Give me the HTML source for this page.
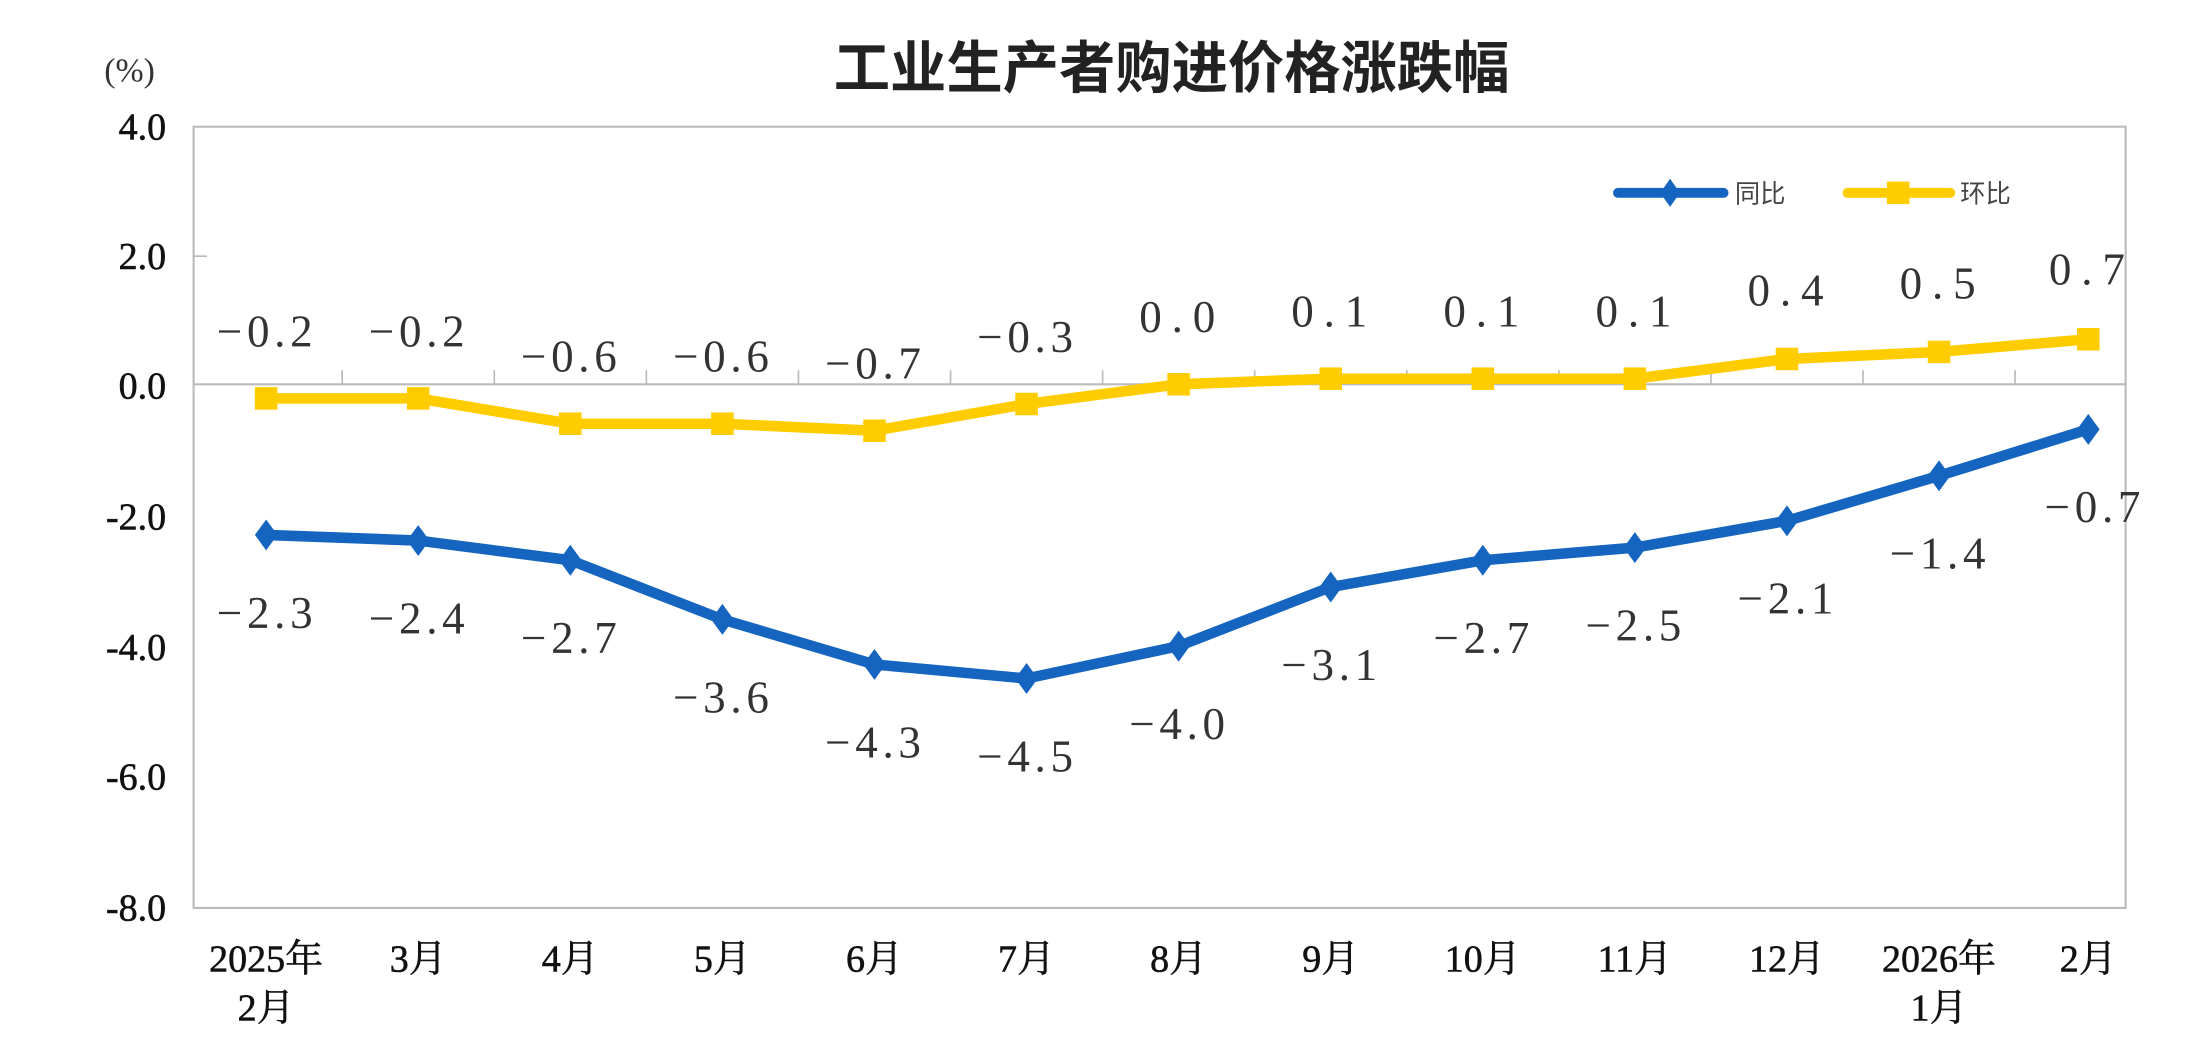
<!DOCTYPE html>
<html><head><meta charset="utf-8"><style>
html,body{margin:0;padding:0;background:#fff;}
svg{display:block;}
</style></head><body>
<svg width="2208" height="1060" viewBox="0 0 1568 753" preserveAspectRatio="none" xmlns="http://www.w3.org/2000/svg">
<rect width="1568" height="753" fill="#fff"/>
<text x="832" y="62" text-anchor="middle" font-family="'Noto Sans CJK SC',sans-serif" font-weight="bold" font-size="40" fill="#222">工业生产者购进价格涨跌幅</text>
<text x="92" y="58" text-anchor="middle" font-family="'Liberation Serif',serif" font-size="24" fill="#333">(%)</text>
<rect x="137.5" y="90" width="1372" height="555" fill="none" stroke="#bbb" stroke-width="1.5"/>
<line x1="137" y1="273" x2="1510" y2="273" stroke="#bbb" stroke-width="1.5"/>
<line x1="137" y1="182" x2="147" y2="182" stroke="#bbb" stroke-width="1.2"/>
<g stroke="#bbb" stroke-width="1.2">
<line x1="243" y1="273" x2="243" y2="263"/><line x1="351" y1="273" x2="351" y2="263"/><line x1="459" y1="273" x2="459" y2="263"/><line x1="567" y1="273" x2="567" y2="263"/><line x1="675" y1="273" x2="675" y2="263"/><line x1="783" y1="273" x2="783" y2="263"/><line x1="891" y1="273" x2="891" y2="263"/><line x1="999" y1="273" x2="999" y2="263"/><line x1="1107" y1="273" x2="1107" y2="263"/><line x1="1215" y1="273" x2="1215" y2="263"/><line x1="1323" y1="273" x2="1323" y2="263"/><line x1="1431" y1="273" x2="1431" y2="263"/>
</g>
<g font-family="'Liberation Serif',serif" font-size="27" fill="#111" text-anchor="end" stroke="#111" stroke-width="0.4">
<text x="118" y="99">4.0</text><text x="118" y="191">2.0</text><text x="118" y="283">0.0</text><text x="118" y="376">-2.0</text><text x="118" y="469">-4.0</text><text x="118" y="561">-6.0</text><text x="118" y="654">-8.0</text>
</g>
<g font-family="'Liberation Serif','Noto Serif CJK SC',serif" font-size="27" fill="#111" text-anchor="middle" stroke="#111" stroke-width="0.4">
<text x="189" y="690">2025年</text><text x="189" y="725">2月</text>
<text x="297" y="690">3月</text><text x="405" y="690">4月</text><text x="513" y="690">5月</text><text x="621" y="690">6月</text><text x="729" y="690">7月</text><text x="837" y="690">8月</text><text x="945" y="690">9月</text><text x="1053" y="690">10月</text><text x="1161" y="690">11月</text><text x="1269" y="690">12月</text>
<text x="1377" y="690">2026年</text><text x="1377" y="725">1月</text><text x="1483" y="690">2月</text>
</g>
<!-- yellow -->
<polyline fill="none" stroke="#ffcc00" stroke-width="7.5" stroke-linejoin="round" points="189,283 297,283 405,301 513,301 621,306 729,287 837,273 945,269 1053,269 1161,269 1269,255 1377,250 1483,241"/>
<g fill="#ffcc00">
<rect x="181" y="275" width="16" height="16"/><rect x="289" y="275" width="16" height="16"/><rect x="397" y="293" width="16" height="16"/><rect x="505" y="293" width="16" height="16"/><rect x="613" y="298" width="16" height="16"/><rect x="721" y="279" width="16" height="16"/><rect x="829" y="265" width="16" height="16"/><rect x="937" y="261" width="16" height="16"/><rect x="1045" y="261" width="16" height="16"/><rect x="1153" y="261" width="16" height="16"/><rect x="1261" y="247" width="16" height="16"/><rect x="1369" y="242" width="16" height="16"/><rect x="1475" y="233" width="16" height="16"/>
</g>
<!-- blue -->
<polyline fill="none" stroke="#1565c0" stroke-width="7.5" stroke-linejoin="round" points="189,380 297,384 405,398 513,440 621,472 729,482 837,459 945,417 1053,398 1161,389 1269,370 1377,338 1483,305"/>
<g fill="#1565c0">
<path d="M189,369l8,11l-8,11l-8,-11z"/><path d="M297,373l8,11l-8,11l-8,-11z"/><path d="M405,387l8,11l-8,11l-8,-11z"/><path d="M513,429l8,11l-8,11l-8,-11z"/><path d="M621,461l8,11l-8,11l-8,-11z"/><path d="M729,471l8,11l-8,11l-8,-11z"/><path d="M837,448l8,11l-8,11l-8,-11z"/><path d="M945,406l8,11l-8,11l-8,-11z"/><path d="M1053,387l8,11l-8,11l-8,-11z"/><path d="M1161,378l8,11l-8,11l-8,-11z"/><path d="M1269,359l8,11l-8,11l-8,-11z"/><path d="M1377,327l8,11l-8,11l-8,-11z"/><path d="M1483,294l8,11l-8,11l-8,-11z"/>
</g>
<g font-family="'Liberation Serif',serif" font-size="32" fill="#333" text-anchor="middle" letter-spacing="2">
<text x="189" y="246" textLength="70">−0.2</text><text x="297" y="246" textLength="70">−0.2</text><text x="405" y="264" textLength="70">−0.6</text><text x="513" y="264" textLength="70">−0.6</text><text x="621" y="269" textLength="70">−0.7</text><text x="729" y="250" textLength="70">−0.3</text><text x="837" y="236" textLength="56">0.0</text><text x="945" y="232" textLength="56">0.1</text><text x="1053" y="232" textLength="56">0.1</text><text x="1161" y="232" textLength="56">0.1</text><text x="1269" y="217" textLength="56">0.4</text><text x="1377" y="212" textLength="56">0.5</text><text x="1483" y="202" textLength="56">0.7</text>
<text x="189" y="446" textLength="70">−2.3</text><text x="297" y="450" textLength="70">−2.4</text><text x="405" y="464" textLength="70">−2.7</text><text x="513" y="506" textLength="70">−3.6</text><text x="621" y="538" textLength="70">−4.3</text><text x="729" y="548" textLength="70">−4.5</text><text x="837" y="525" textLength="70">−4.0</text><text x="945" y="483" textLength="70">−3.1</text><text x="1053" y="464" textLength="70">−2.7</text><text x="1161" y="455" textLength="70">−2.5</text><text x="1269" y="436" textLength="70">−2.1</text><text x="1377" y="404" textLength="70">−1.4</text><text x="1487" y="371" textLength="70">−0.7</text>
</g>
<line x1="1149" y1="137" x2="1224" y2="137" stroke="#1565c0" stroke-width="7" stroke-linecap="round"/>
<path d="M1186,127l7,10l-7,10l-7,-10z" fill="#1565c0"/>
<text x="1232" y="144" font-family="'Noto Sans CJK SC',sans-serif" font-size="18" fill="#444">同比</text>
<line x1="1312" y1="137" x2="1385" y2="137" stroke="#ffcc00" stroke-width="7" stroke-linecap="round"/>
<rect x="1340" y="129" width="16" height="16" fill="#ffcc00"/>
<text x="1392" y="144" font-family="'Noto Sans CJK SC',sans-serif" font-size="18" fill="#444">环比</text>
</svg>
</body></html>
